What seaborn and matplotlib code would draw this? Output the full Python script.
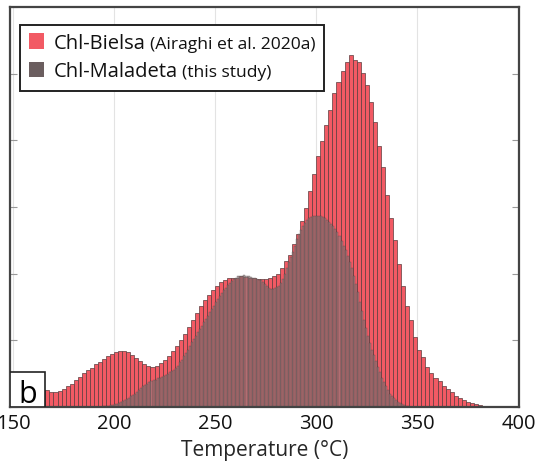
import numpy as np
import pandas as pd
import matplotlib
matplotlib.use("Agg")
import matplotlib.pyplot as plt
import seaborn as sns
from matplotlib.offsetbox import AnchoredOffsetbox, VPacker, HPacker, TextArea, DrawingArea
from matplotlib.patches import Rectangle

# ---------------- data ----------------
# Chl-Bielsa: 2 degC bins, edges 150..400 (bin centres 151..399)
bielsa_edges = list(range(150, 402, 2))
bielsa_values = [
    0.22, 0.22, 0.22, 0.23, 0.23, 0.24, 0.24, 0.25, 0.25, 0.23,   # 151-169
    0.23, 0.24, 0.27, 0.31, 0.35, 0.40, 0.45, 0.51, 0.55, 0.59,   # 171-189
    0.64, 0.68, 0.72, 0.76, 0.80, 0.82, 0.84, 0.84, 0.82, 0.78,   # 191-209
    0.73, 0.69, 0.65, 0.62, 0.60, 0.62, 0.66, 0.71, 0.77, 0.84,   # 211-229
    0.92, 1.01, 1.10, 1.20, 1.31, 1.41, 1.52, 1.61, 1.68, 1.75,   # 231-249
    1.82, 1.87, 1.91, 1.94, 1.93, 1.94, 1.97, 1.95, 1.94, 1.93,   # 251-269
    1.92, 1.92, 1.92, 1.94, 1.97, 2.00, 2.09, 2.19, 2.28, 2.44,   # 271-289
    2.59, 2.79, 2.99, 3.24, 3.49, 3.76, 3.99, 4.23, 4.46, 4.71,   # 291-309
    4.88, 5.04, 5.17, 5.28, 5.20, 5.18, 5.01, 4.83, 4.58, 4.28,   # 311-329
    3.91, 3.60, 3.18, 2.84, 2.50, 2.14, 1.82, 1.52, 1.31, 1.05,   # 331-349
    0.86, 0.75, 0.60, 0.51, 0.44, 0.39, 0.32, 0.27, 0.22, 0.17,   # 351-369
    0.13, 0.10, 0.075, 0.058, 0.044, 0.032, 0.022, 0.014, 0.008, 0.004,  # 371-389
    0.0, 0.0, 0.0, 0.0, 0.0,                                      # 391-399
]

# Chl-Maladeta: 1 degC bins, edges 193..347
maladeta_edges = list(range(193, 348, 1))
maladeta_values = [
    0.005, 0.008, 0.01, 0.015, 0.02, 0.025, 0.03, 0.04, 0.05, 0.06,   # 193-202
    0.075, 0.09, 0.10, 0.12, 0.14, 0.16, 0.18, 0.20, 0.23, 0.26,      # 203-212
    0.28, 0.31, 0.33, 0.35, 0.37, 0.39, 0.40, 0.41, 0.43, 0.44,       # 213-222
    0.45, 0.47, 0.48, 0.50, 0.52, 0.54, 0.56, 0.58, 0.62, 0.67,       # 223-232
    0.71, 0.76, 0.81, 0.86, 0.92, 0.97, 1.02, 1.07, 1.12, 1.17,       # 233-242
    1.22, 1.27, 1.32, 1.37, 1.42, 1.47, 1.52, 1.57, 1.62, 1.67,       # 243-252
    1.71, 1.75, 1.79, 1.83, 1.86, 1.89, 1.92, 1.94, 1.96, 1.97,       # 253-262
    1.96, 1.98, 1.97, 1.96, 1.95, 1.94, 1.93, 1.92, 1.91, 1.90,       # 263-272
    1.88, 1.85, 1.81, 1.78, 1.77, 1.77, 1.78, 1.80, 1.82, 1.86,       # 273-282
    1.92, 1.99, 2.08, 2.17, 2.25, 2.33, 2.42, 2.52, 2.60, 2.66,       # 283-292
    2.71, 2.76, 2.80, 2.83, 2.85, 2.86, 2.87, 2.87, 2.87, 2.86,       # 293-302
    2.85, 2.83, 2.80, 2.77, 2.74, 2.71, 2.67, 2.62, 2.56, 2.49,       # 303-312
    2.42, 2.35, 2.27, 2.18, 2.08, 1.97, 1.85, 1.72, 1.58, 1.44,       # 313-322
    1.30, 1.18, 1.07, 0.96, 0.86, 0.78, 0.69, 0.60, 0.52, 0.44,       # 323-332
    0.37, 0.31, 0.25, 0.20, 0.16, 0.13, 0.10, 0.08, 0.06, 0.04,       # 333-342
    0.03, 0.02, 0.01, 0.005,                                          # 343-346
]

x_ticks = [150, 200, 250, 300, 350, 400]
x_label = "Temperature (\u00b0C)"
legend_main = ["Chl-Bielsa", "Chl-Maladeta"]
legend_sub = ["(Airaghi et al. 2020a)", "(this study)"]
panel_label = "b"

# ---------------- styling ----------------
sns.set_theme(style="white")
plt.rcParams["font.family"] = ["Open Sans", "DejaVu Sans"]

red = "#F25A64"
brown = "#6B5E5F"
brown_bar = "#8C7A7B"

bielsa_centres = [(a + b) / 2 for a, b in zip(bielsa_edges[:-1], bielsa_edges[1:])]
maladeta_centres = [(a + b) / 2 for a, b in zip(maladeta_edges[:-1], maladeta_edges[1:])]
df_b = pd.DataFrame({"T": bielsa_centres, "w": bielsa_values})
df_m = pd.DataFrame({"T": maladeta_centres, "w": maladeta_values})

fig = plt.figure(figsize=(5.39, 4.69), dpi=100)
ax = fig.add_axes([10 / 539, 1 - 407 / 469, 509 / 539, 400 / 469])

ax.grid(axis="x", color="#e3e3e3", linewidth=0.8, zorder=0)
ax.set_axisbelow(True)

sns.histplot(data=df_b, x="T", weights="w", bins=bielsa_edges, ax=ax,
             color=red, alpha=1.0, edgecolor="#5a3c3e", linewidth=0.5)
sns.histplot(data=df_m, x="T", weights="w", bins=maladeta_edges, ax=ax,
             color=brown_bar, alpha=0.62, edgecolor="#4a3c3c", linewidth=0.2)

ax.set_xlim(148.5, 400.3)
ax.set_ylim(0, 5.97)
ax.set_xticks(x_ticks)
ax.set_xticklabels([str(t) for t in x_ticks], fontsize=14.5)
ax.set_yticks(range(0, 7))
ax.set_yticklabels([])
ax.set_ylabel("")
ax.set_xlabel(x_label, fontsize=15, labelpad=4)
ax.tick_params(axis="x", direction="in", length=0, pad=5, colors="#111111")
ax.tick_params(axis="y", direction="in", length=5, color="#999999",
               left=True, right=True, width=0.8)
for s in ax.spines.values():
    s.set_color("#444444")
    s.set_linewidth(1.6)

# legend built from packed boxes (two font sizes per entry)
rows = []
for col, big, small in zip([red, brown], legend_main, legend_sub):
    da = DrawingArea(11, 11, 0, 0)
    da.add_artist(Rectangle((0, 0), 11, 11, facecolor=col, edgecolor="none"))
    t1 = TextArea(big, textprops=dict(size=14.5, color="#111111"))
    t2 = TextArea(small, textprops=dict(size=12.6, color="#111111"))
    rows.append(HPacker(children=[da,
                                  HPacker(children=[t1, t2], align="baseline", pad=0, sep=3)],
                        align="baseline", pad=0, sep=7))
box = VPacker(children=rows, align="left", pad=0, sep=6)
leg = AnchoredOffsetbox(loc="upper left", child=box, pad=0.55, borderpad=0,
                        frameon=True, bbox_to_anchor=(0.02, 0.955),
                        bbox_transform=ax.transAxes)
leg.patch.set_edgecolor("#222222")
leg.patch.set_linewidth(1.4)
leg.patch.set_facecolor("white")
leg.set_zorder(10)
ax.add_artist(leg)

# panel label "b" in a white square at the lower-left corner
bw, bh = 35 / 509, 35 / 400
ax.add_patch(Rectangle((0, 0), bw, bh, transform=ax.transAxes, facecolor="white",
                       edgecolor="#222222", linewidth=1.2, zorder=10))
ax.text(bw / 2, 4 / 400, panel_label, transform=ax.transAxes, ha="center",
        va="baseline", fontsize=22, color="black", zorder=11)

fig.savefig("out.png", dpi=100)
